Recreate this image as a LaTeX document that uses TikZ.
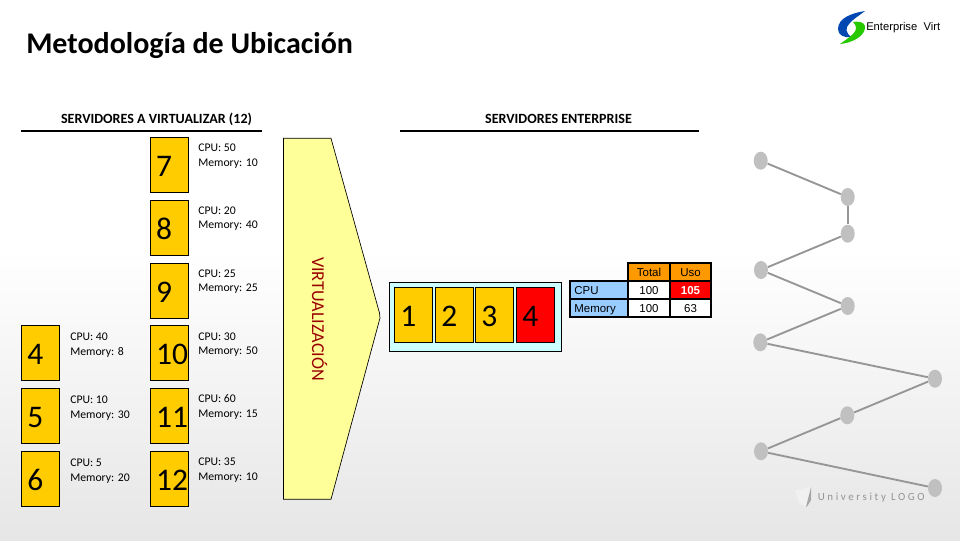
\documentclass[tikz,border=0pt]{standalone}
\usepackage{fontspec}
\setmainfont{Carlito}
\newfontfamily\arialf{Liberation Sans}
\usetikzlibrary{calc,shapes.geometric}
\definecolor{amber}{HTML}{FFCC00}
\definecolor{paleyellow}{HTML}{FFFF99}
\definecolor{palecyan}{HTML}{CCFFFF}
\definecolor{headorange}{HTML}{FF9900}
\definecolor{rowblue}{HTML}{99CCFF}
\definecolor{dotgrey}{HTML}{C0C0C0}
\definecolor{linegrey}{HTML}{969696}
\definecolor{bottomgrey}{HTML}{E6E6E6}
\tikzset{
  x=0.75pt,y=-0.75pt,
  srv/.style={draw=black,line width=0.75pt,fill=amber,minimum width=28.8pt,minimum height=41.2pt,inner ysep=0pt,inner xsep=4.5pt,text width=19.8pt,text height=17.4pt,text depth=0pt,align=left,font=\fontsize{23.6}{24}\selectfont},
  spec/.style={anchor=west,align=left,inner sep=0pt,font=\fontsize{8.8}{11}\selectfont},
  head/.style={inner sep=0pt,font=\bfseries\fontsize{10.55}{12}\selectfont},
  cell/.style={draw=black,line width=1.2pt,minimum height=13.6pt,inner sep=0pt,text height=6.3pt,text depth=0pt,font=\arialf\fontsize{8.6}{10}\selectfont},
  rowcell/.style={cell,fill=rowblue,minimum width=43.5pt,text width=37pt,inner xsep=3.2pt,align=left},
  dot/.style={ellipse,fill=dotgrey,minimum width=10.5pt,minimum height=13.5pt,inner sep=0pt},
  link/.style={draw=linegrey,line width=1.4pt},
  rule/.style={line width=1.2pt,black},
}
\begin{document}
\begin{tikzpicture}
\useasboundingbox (0,0) rectangle (960,540);
\fill[white] (0,0) rectangle (960,250);
\shade[top color=white,bottom color=bottomgrey] (0,250) rectangle (960,540);

% logo
\fill[blue!60!cyan!70!black] (865,11) .. controls (852,13) and (838,18) .. (838,29) .. controls (838,35) and (844,38) .. (851,37) .. controls (846,33) and (845,28) .. (849,24) .. controls (853,19) and (860,15) .. (865,11) -- cycle;
\fill[green!75!black!85!yellow] (840,44) .. controls (852,43) and (866,36) .. (865,26) .. controls (864,22) and (858,21) .. (853,22) .. controls (857,26) and (857,30) .. (853,34) .. controls (849,38) and (844,41) .. (840,44) -- cycle;
\node[anchor=west,inner sep=0pt,font=\arialf\fontsize{8.4}{9}\selectfont] (logotext) at (866,28) {Enterprise\ \ Virt};

% title and headers
\node[anchor=west,inner sep=0pt,font=\bfseries\fontsize{22.5}{26}\selectfont] (title) at (26,45.5) {Metodología de Ubicación};
\node[head] (hleft) at (156.5,119) {SERVIDORES A VIRTUALIZAR (12)};
\node[head] (hright) at (558.5,119) {SERVIDORES ENTERPRISE};
\coordinate (r1a) at (21,131); \coordinate (r1b) at (262,131);
\coordinate (r2a) at (400,131); \coordinate (r2b) at (699,131);
\draw[rule] (r1a) -- (r1b);
\draw[rule] (r2a) -- (r2b);

% servers to virtualize
\node[srv] (s7) at (169.3,164.8) {7};
\node[srv] (s8) at (169.3,227.8) {8};
\node[srv] (s9) at (169.3,290.7) {9};
\node[srv] (s10) at (169.3,352.8) {10};
\node[srv] (s11) at (169.3,416) {11};
\node[srv] (s12) at (169.3,478.8) {12};
\node[srv] (s4) at (40.5,352.8) {4};
\node[srv] (s5) at (40.5,416) {5};
\node[srv] (s6) at (40.5,478.8) {6};

\node[spec] (t7) at (198,156) {CPU: 50\\Memory: 10};
\node[spec] (t8) at (198,218.5) {CPU: 20\\Memory: 40};
\node[spec] (t9) at (198,281.5) {CPU: 25\\Memory: 25};
\node[spec] (t10) at (198,344.5) {CPU: 30\\Memory: 50};
\node[spec] (t11) at (198,407) {CPU: 60\\Memory: 15};
\node[spec] (t12) at (198,470) {CPU: 35\\Memory: 10};
\node[spec] (t4) at (70,345) {CPU: 40\\Memory: 8};
\node[spec] (t5) at (70,408) {CPU: 10\\Memory: 30};
\node[spec] (t6) at (70,471) {CPU: 5\\Memory: 20};

% virtualization arrow
\draw[fill=paleyellow,line width=0.5pt] (283.5,138.3) -- (331,138.3) -- (379.5,313) -- (380,318) -- (331,499.3) -- (283.5,499.3) -- cycle;
\node[rotate=-90,inner sep=0pt,text=red!60!black,font=\fontsize{13.6}{15}\selectfont] (virt) at (319.5,319) {VIRTUALIZACIÓN};

% enterprise servers
\draw[fill=palecyan,line width=0.6pt] (389.3,282.3) rectangle (561.7,351.3);
\node[srv] (e1) at (413.5,314.8) {1};
\node[srv] (e2) at (454.5,314.8) {2};
\node[srv] (e3) at (494.5,314.8) {3};
\node[srv,fill=red] (e4) at (535.5,315.3) {4};

% table
\node[cell,fill=headorange,minimum width=31.5pt] (tt) at (649,272) {Total};
\node[cell,fill=headorange,minimum width=30.8pt] (tu) at (690.5,272) {Uso};
\node[rowcell] (rc) at (599,290) {CPU};
\node[cell,fill=white,minimum width=31.5pt] (c1) at (649,290) {100};
\node[cell,fill=red,text=white,minimum width=30.8pt,font=\arialf\bfseries\fontsize{8.6}{10}\selectfont] (u1) at (690.5,290) {105};
\node[rowcell] (rm) at (599,308) {Memory};
\node[cell,fill=white,minimum width=31.5pt] (c2) at (649,308) {100};
\node[cell,fill=white,minimum width=30.8pt] (u2) at (690.5,308) {63};

% grey chain
\node[dot] (d1) at (760.7,160.7) {};
\node[dot] (d2) at (847.7,197) {};
\node[dot] (d3) at (847.7,233.7) {};
\node[dot] (d4) at (761,270) {};
\node[dot] (d5) at (847.7,306) {};
\node[dot] (d6) at (760.3,342.3) {};
\node[dot] (d7) at (935,378.7) {};
\node[dot] (d8) at (847.3,415.3) {};
\node[dot] (d9) at (761,451.3) {};
\node[dot] (d10) at (935,488) {};
\draw[link] (d1) -- (d2);
\draw[link] (d2) -- (d3);
\draw[link] (d3) -- (d4);
\draw[link] (d4) -- (d5);
\draw[link] (d5) -- (d6);
\draw[link] (d6) -- (d7);
\draw[link] (d7) -- (d8);
\draw[link] (d8) -- (d9);
\draw[link] (d9) -- (d10);

% university logo
\fill[white!88!gray] (795,490) -- (811,487) -- (806,507) -- (799,503) -- cycle;
\fill[gray!70] (811,487) -- (806,507) -- (808,505) -- (811,500) -- cycle;
\node[anchor=west,inner sep=0pt,text=gray!85,font=\fontsize{8.2}{10}\selectfont] (ulogo) at (817.5,497.5) {\addfontfeatures{LetterSpace=24}University LOGO};
\end{tikzpicture}
\end{document}
